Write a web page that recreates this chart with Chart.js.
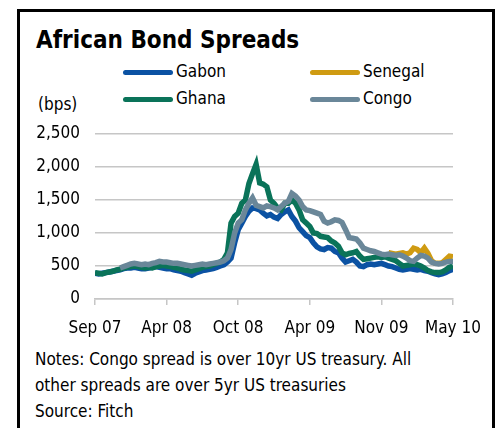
<!DOCTYPE html>
<html>
<head>
<meta charset="utf-8">
<script src="https://cdn.jsdelivr.net/npm/chart.js@4.4.1/dist/chart.umd.min.js"></script>
<style>
  html, body { margin: 0; padding: 0; background: #fff; }
  body { width: 500px; height: 428px; position: relative; overflow: hidden;
         font-family: 'DejaVu Sans Condensed', 'DejaVu Sans', sans-serif; color: #000; }
  #frame { position: absolute; left: 17px; top: 9px; width: 472px; height: 440px; border: 3px solid #000; }
  #title { position: absolute; left: 36px; top: 26px; font-size: 24px; font-weight: bold; white-space: nowrap; }
  .leg { position: absolute; font-size: 17px; white-space: nowrap; line-height: 20px; }
  .leg span.sw { display: inline-block; width: 50px; height: 5px; border-radius: 2.5px; vertical-align: middle; margin-right: 3px; }
  #unit { position: absolute; left: 38px; top: 94px; font-size: 17px; }
  #notes { position: absolute; left: 35px; top: 346px; font-size: 17px; line-height: 26px; white-space: nowrap; }
  canvas { position: absolute; left: 0; top: 0; }
</style>
</head>
<body>
<div id="frame"></div>
<div id="title">African Bond Spreads</div>
<div id="legend"></div>
<div id="unit">(bps)</div>
<div id="notes">Notes: Congo spread is over 10yr US treasury. All<br>other spreads are over 5yr US treasuries<br>Source: Fitch</div>
<canvas id="myChart" width="500" height="428"></canvas>
<script>
// x positions are sample numbers, 20 samples between labelled ticks
const tickLabels = ['Sep 07', 'Apr 08', 'Oct 08', 'Apr 09', 'Nov 09', 'May 10'];
const seriesNames = ['Gabon', 'Senegal', 'Ghana', 'Congo'];
const seriesColors = ['#0b52a3', '#cf9b12', '#0a7359', '#6a8799'];

const gabon = [390,380,390,400,410,420,430,440,460,470, 470,480,470,460,460,470,480,490,480,470,
  460,460,440,430,420,400,380,360,390,410, 430,440,450,460,480,500,520,560,620,850,
  1050,1150,1250,1330,1380,1370,1350,1300,1260,1280, 1240,1220,1280,1320,1350,1250,1180,1080,1020,960,
  930,850,790,760,750,780,770,720,700,620, 560,580,600,560,500,490,520,530,520,530,
  540,520,500,490,470,450,440,450,460,450, 440,450,430,420,400,380,370,380,400,430,
  450];
const senegal = [
  null,null,null,null,null,null,null,null,null,null, null,null,null,null,null,null,null,null,null,null,
  null,null,null,null,null,null,null,null,null,null, null,null,null,null,null,null,null,null,null,null,
  null,null,null,null,null,null,null,null,null,null, null,null,null,null,null,null,null,null,null,null,
  null,null,null,null,null,null,null,null,null,null, null,null,null,null,null,null,null,null,null,null,
  null,null,700,690,680,690,700,680,700,770, 750,700,770,690,580,540,540,550,600,650,
  640];
const ghana = [400,390,380,400,410,420,440,450,470,480, 490,500,490,480,470,480,470,490,500,510,
  500,490,480,470,450,440,430,420,440,460, 480,490,500,520,540,560,600,700,1150,1250,
  1300,1450,1500,1750,1900,2040,1760,1740,1700,1500, 1450,1380,1350,1450,1450,1500,1450,1350,1200,1150,
  1100,1000,990,950,940,930,880,850,800,700, 670,690,700,720,650,600,610,620,630,640,
  630,640,620,600,580,540,500,510,520,530, 520,500,470,430,410,400,400,410,440,480,
  500];
const congo = [null,null,null,null,null,null,null,470,490,510, 530,540,530,520,530,520,540,550,570,560,
  560,550,540,540,530,520,510,500,510,520, 530,520,530,540,550,560,580,620,750,1000,
  1150,1200,1350,1450,1530,1420,1400,1380,1410,1400, 1380,1350,1400,1450,1480,1600,1560,1500,1400,1350,
  1340,1320,1300,1280,1180,1150,1170,1200,1190,1160, 1050,930,920,910,850,770,750,730,720,700,
  680,670,680,670,660,670,650,620,580,570, 620,660,650,620,560,540,530,540,560,570,
  570];

const seriesData = [gabon, senegal, ghana, congo];
const drawOrder = [3, 2, 1, 0]; // Congo on top

// legend, two columns like the original
const legendPos = [[123, 61], [310, 61], [123, 88], [310, 88]];
const legend = document.getElementById('legend');
seriesNames.forEach((name, i) => {
  const d = document.createElement('div');
  d.className = 'leg';
  d.style.left = legendPos[i][0] + 'px';
  d.style.top = legendPos[i][1] + 'px';
  d.innerHTML = '<span class="sw" style="background:' + seriesColors[i] + '"></span>' + name;
  legend.appendChild(d);
});

const FONT = "'DejaVu Sans Condensed', 'DejaVu Sans', sans-serif";

new Chart(document.getElementById('myChart'), {
  type: 'line',
  data: {
    datasets: seriesNames.map((name, i) => ({
      label: name,
      data: seriesData[i].map((v, j) => ({ x: j, y: v })),
      borderColor: seriesColors[i],
      backgroundColor: seriesColors[i],
      borderWidth: 5.5,
      pointRadius: 0,
      tension: 0,
      spanGaps: false,
      order: drawOrder[i],
    })),
  },
  options: {
    responsive: false,
    animation: false,
    layout: { padding: { left: 0, top: 134, right: 47, bottom: 60 } },
    plugins: { legend: { display: false }, tooltip: { enabled: false } },
    scales: {
      x: {
        type: 'linear',
        min: 0,
        max: 100,
        afterFit: (s) => { s.height = 69; },
        ticks: {
          stepSize: 20,
          autoSkip: false,
          maxRotation: 0,
          padding: 13,
          color: '#000',
          font: { family: FONT, size: 17 },
          callback: (v) => tickLabels[v / 20],
        },
        grid: { drawOnChartArea: false, drawTicks: true, tickLength: 6, color: '#c6c6c6', lineWidth: 1.5 },
        border: { display: true, color: '#c6c6c6', width: 1.5 },
      },
      y: {
        min: 0,
        max: 2500,
        afterFit: (s) => { s.width = 95; },
        ticks: {
          stepSize: 500,
          padding: 15,
          color: '#000',
          font: { family: FONT, size: 17 },
          callback: (v) => v.toLocaleString('en-US'),
        },
        grid: { drawTicks: false, color: '#c6c6c6', lineWidth: 1.5 },
        border: { display: false },
      },
    },
  },
});
</script>
</body>
</html>
